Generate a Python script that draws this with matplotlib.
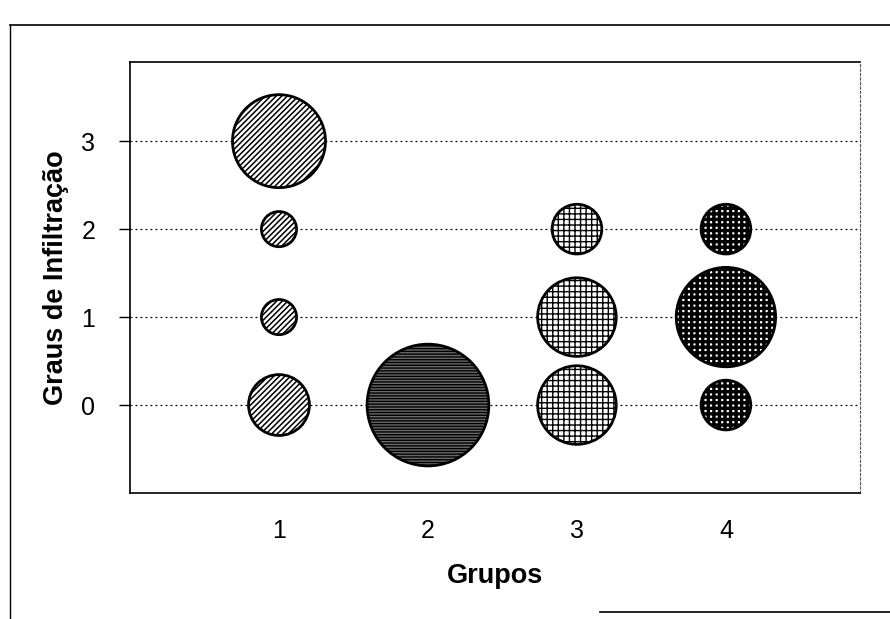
import matplotlib.pyplot as plt
import matplotlib as mpl
from matplotlib.lines import Line2D

plt.rcParams['font.family'] = ['Liberation Sans', 'DejaVu Sans']

# ── 資料：每個圓的位置 (組別, 浸潤等級) 與病例數（泡泡面積）──
grupos = [1, 1, 1, 1, 2, 3, 3, 3, 4, 4, 4]
graus = [3, 2, 1, 0, 0, 2, 1, 0, 2, 1, 0]
casos = [7, 1, 1, 3, 12, 2, 5, 5, 2, 8, 2]

x_ticks = [1, 2, 3, 4]
y_ticks = [0, 1, 2, 3]

# 每組的填充樣式（面色、陰影、陰影線寬）
estilos = {
    1: ('white', '//////', 1.1),
    2: ('#6a6a6a', '------', 1.0),
    3: ('white', '+++', 1.0),
    4: ('white', '+++', 2.4),
}

SCALE = 640  # points^2 per caso

fig = plt.figure(figsize=(8.9, 6.19), dpi=100)
ax = fig.add_axes([130 / 890, 1 - 493 / 619, 730 / 890, 431 / 619])

# 虛線格線
for g in y_ticks:
    ax.axhline(g, color='black', linestyle=(0, (1.5, 2.5)), linewidth=0.9, zorder=1)

for grp, (fc, hatch, hlw) in estilos.items():
    xs = [x for x, gg in zip(grupos, grupos) if gg == grp]
    ys = [y for y, gg in zip(graus, grupos) if gg == grp]
    ss = [c * SCALE for c, gg in zip(casos, grupos) if gg == grp]
    with mpl.rc_context({'hatch.color': 'black', 'hatch.linewidth': hlw}):
        ax.scatter(xs, ys, s=ss, facecolor=fc, edgecolor='black',
                   linewidth=2.0, hatch=hatch, zorder=3)

ax.set_xlim(0, 4.9)
ax.set_ylim(-1, 3.9)
ax.set_xticks(x_ticks)
ax.set_yticks(y_ticks)
ax.tick_params(axis='x', length=0, pad=19, labelsize=18)
ax.tick_params(axis='y', direction='out', length=8, width=1, pad=17, labelsize=18)

ax.set_xlabel('Grupos', fontsize=19.5, fontweight='bold', labelpad=14)
ax.set_ylabel('Graus de Infiltração', fontsize=19.5, fontweight='bold', labelpad=9)

for side in ['left', 'top', 'bottom']:
    ax.spines[side].set_linewidth(1.2)
ax.spines['right'].set_linestyle((0, (2, 2)))
ax.spines['right'].set_linewidth(0.8)
ax.spines['right'].set_color('#555555')

# 外框（掃描圖的邊線）
fig.add_artist(Line2D([10 / 890, 10 / 890], [0, 1 - 25 / 619], color='black', linewidth=1.0))
fig.add_artist(Line2D([10 / 890, 1], [1 - 25 / 619, 1 - 25 / 619], color='black', linewidth=1.2))
fig.add_artist(Line2D([600 / 890, 1], [1 - 612 / 619, 1 - 612 / 619], color='black', linewidth=1.2))

fig.savefig('out.png', dpi=100)
